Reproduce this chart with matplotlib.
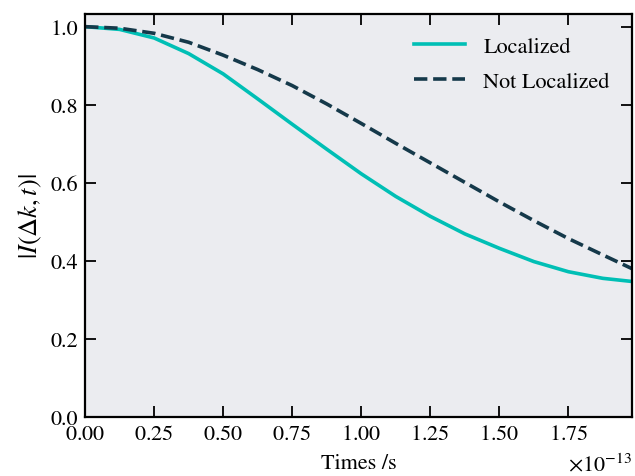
import numpy as np
import matplotlib
matplotlib.use("Agg")
from matplotlib import pyplot as plt
import matplotlib.transforms as mtransforms

plt.rcParams['font.family'] = 'STIXGeneral'
plt.rcParams['mathtext.fontset'] = 'stix'

# time in units of 1e-13 s
times = [0.0, 0.125, 0.25, 0.375, 0.5, 0.625, 0.75, 0.875, 1.0, 1.125,
         1.25, 1.375, 1.5, 1.625, 1.75, 1.875, 1.98]
localized = [1.0, 0.993, 0.971, 0.931, 0.879, 0.815, 0.750, 0.686, 0.623, 0.565,
             0.514, 0.469, 0.432, 0.398, 0.372, 0.355, 0.347]
not_localized = [1.0, 0.996, 0.983, 0.960, 0.927, 0.890, 0.849, 0.802, 0.752, 0.701,
                 0.651, 0.601, 0.551, 0.503, 0.457, 0.415, 0.380]

t = np.array(times) * 1e-13

fig, ax = plt.subplots(figsize=(6.35, 4.77), dpi=100)
fig.subplots_adjust(left=0.134, right=0.995, top=0.969, bottom=0.124)
ax.set_facecolor('#ebecf0')

ax.plot(t, localized, color='#00bfb5', lw=2.6, label='Localized')
ax.plot(t, not_localized, color='#15394a', lw=2.6, ls='--', label='Not Localized')

ax.set_xlim(0, t[-1])
ax.set_ylim(0, 1.033)
ax.set_xticks(np.arange(0, 2.0, 0.25) * 1e-13)
ax.set_yticks(np.arange(0, 1.01, 0.2))
ax.ticklabel_format(axis='x', style='sci', scilimits=(0, 0), useMathText=True)

ax.tick_params(direction='in', length=8, width=1.3, top=True, right=True,
               labelsize=16, pad=5)
for s in ax.spines.values():
    s.set_linewidth(1.6)

# push the exponent down a little so it sits level with the axis label
off = ax.xaxis.get_offset_text()
off.set_fontsize(16)
off.set_transform(off.get_transform() +
                  mtransforms.ScaledTranslation(0, -4 / 72, fig.dpi_scale_trans))

ax.set_xlabel('Times /s', fontsize=16, labelpad=7)
ax.set_ylabel(r'$|I(\Delta k,t)|$', fontsize=19, labelpad=5)

ax.legend(loc='upper right', frameon=False, fontsize=16, handlelength=2.3,
          labelspacing=0.65, borderaxespad=0.6)

fig.savefig('out.png', dpi=100)
